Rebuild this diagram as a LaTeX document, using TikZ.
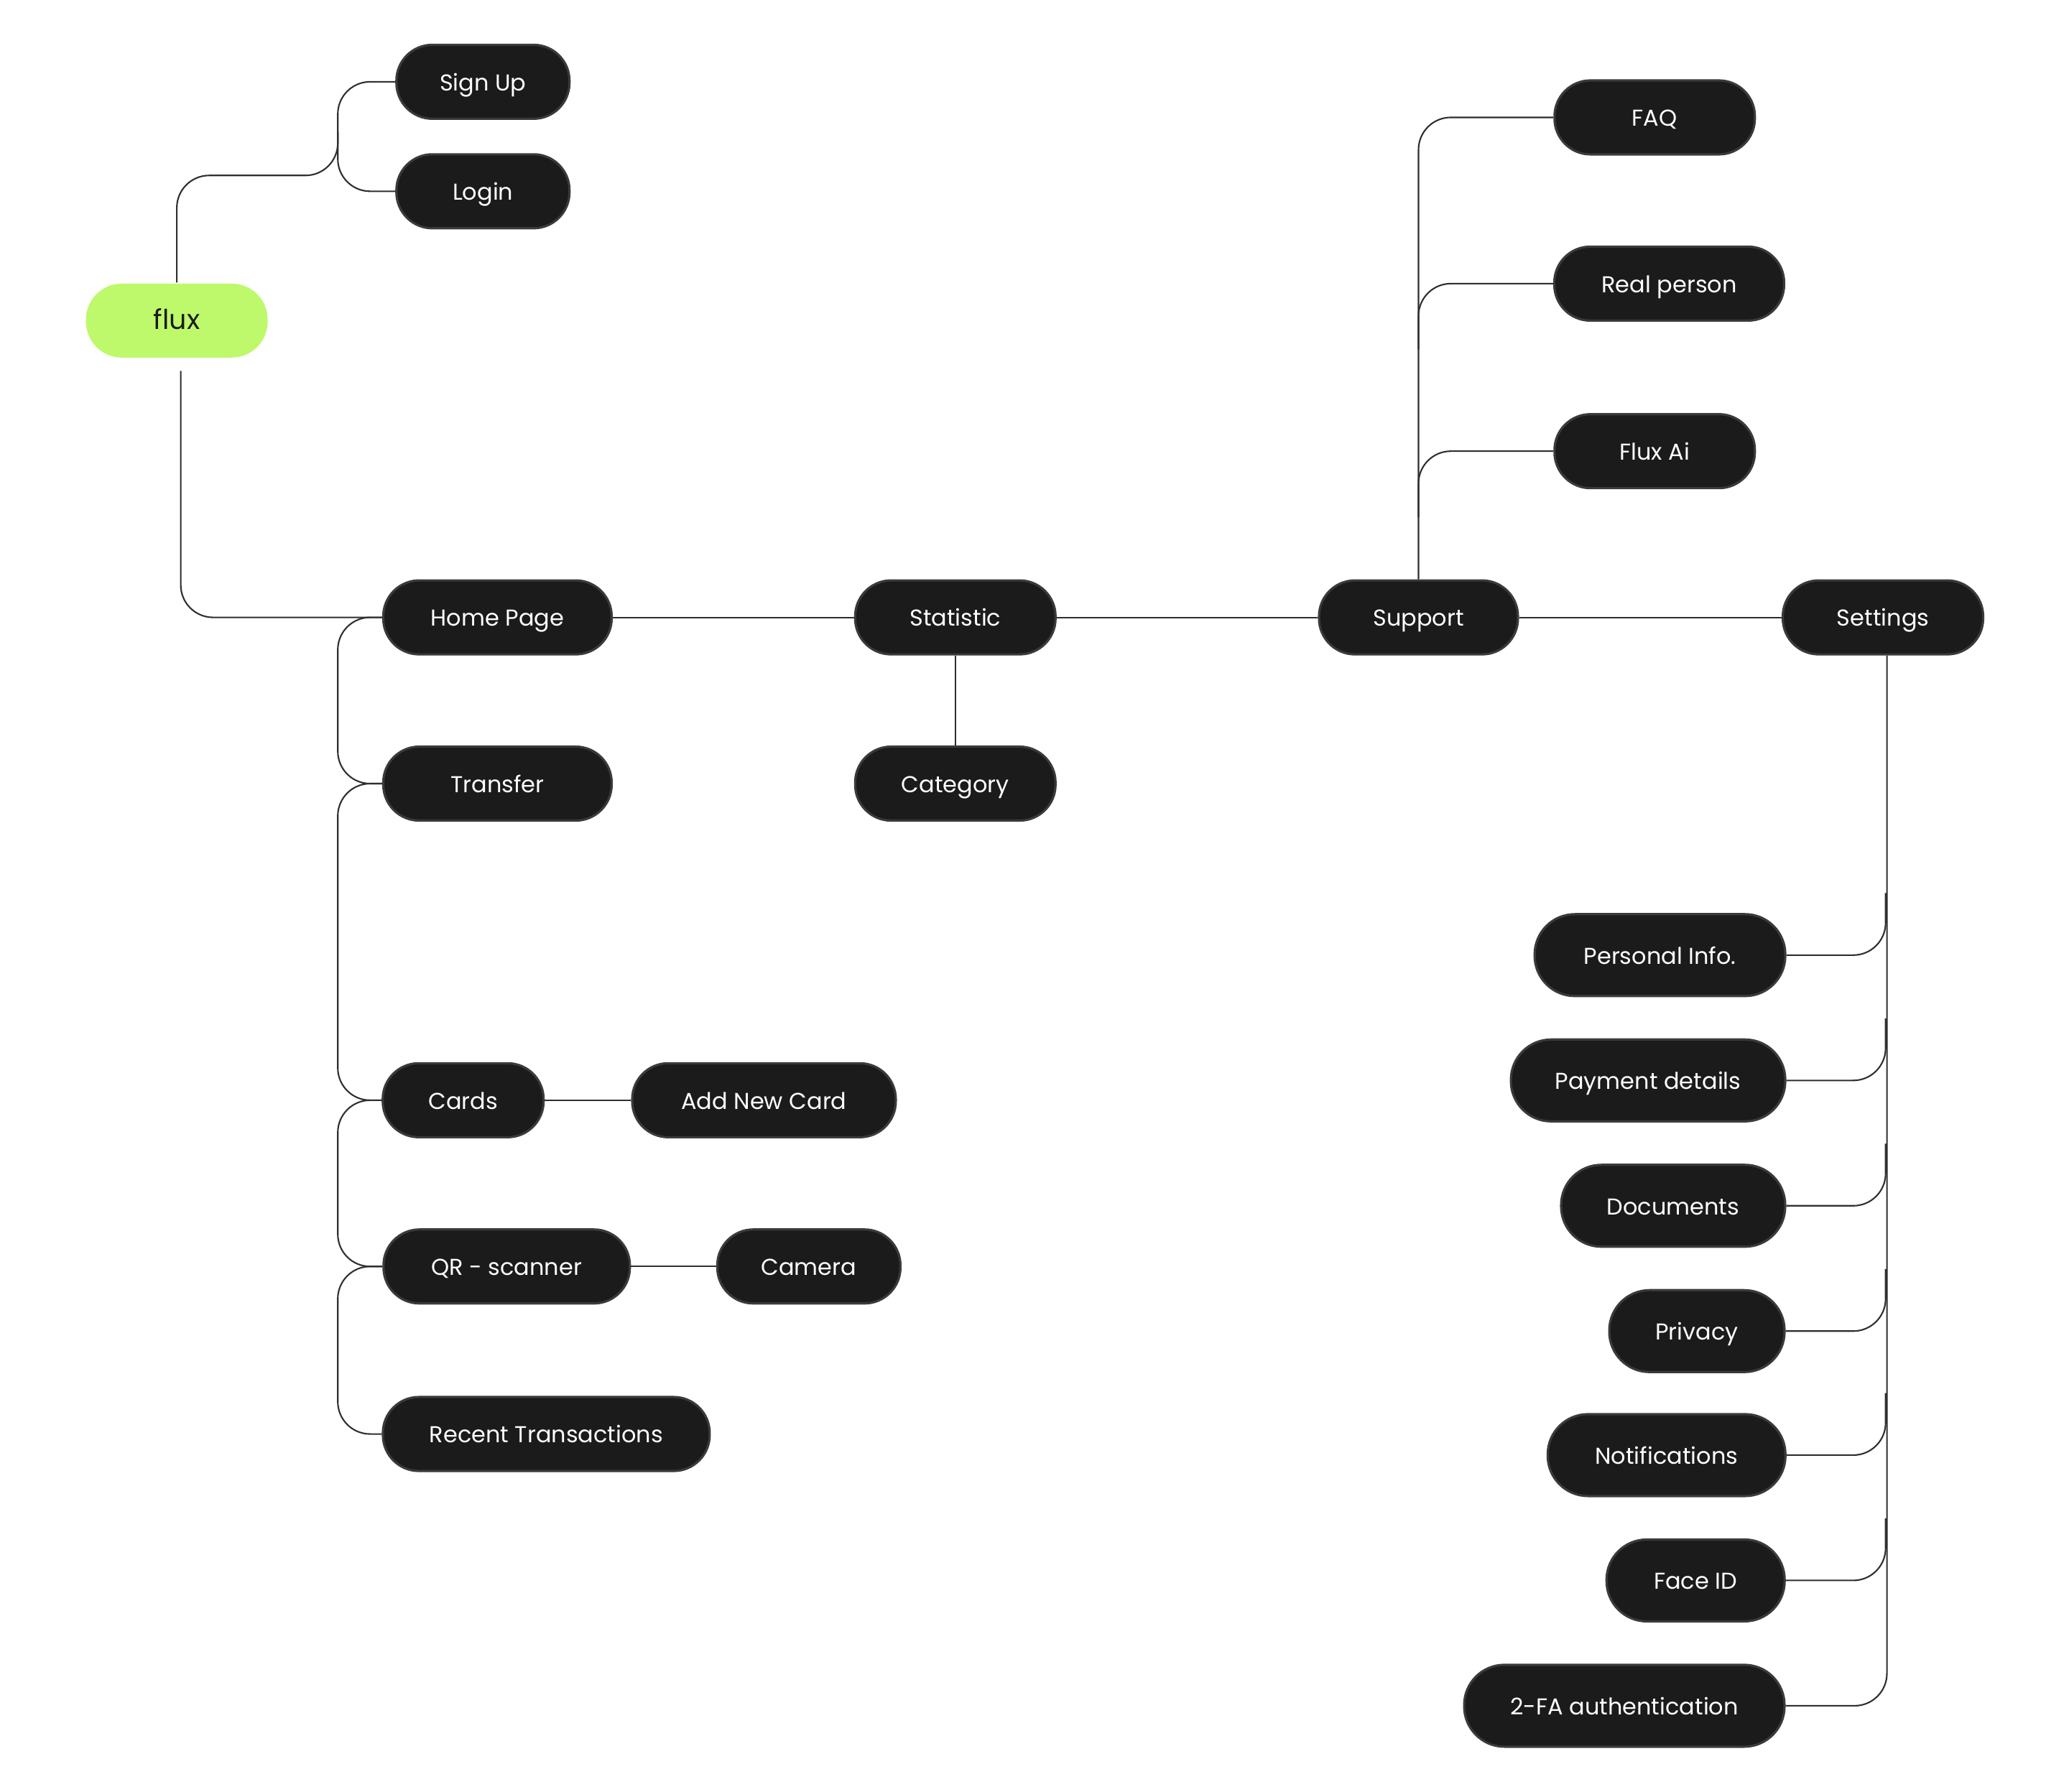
\documentclass[tikz,border=0pt]{standalone}
\usepackage{fontspec}
\setmainfont{Poppins}
\definecolor{nodefill}{HTML}{1B1B1B}
\definecolor{nodeedge}{HTML}{3A3A3A}
\definecolor{conncol}{HTML}{2F2F2F}
\definecolor{fluxgreen}{HTML}{BEF96B}
\begin{document}
\begin{tikzpicture}[x=0.018367cm,y=-0.018367cm,
 pill/.style={draw=nodeedge, line width=0.9pt, fill=nodefill, text=white, rounded corners=0.5cm, minimum height=1.03cm, inner sep=0pt, text height=0.7em, text depth=0pt, font=\fontsize{9.1}{11}\selectfont},
 pilltall/.style={pill, minimum height=1.14cm, rounded corners=0.56cm},
 rootpill/.style={pill, draw=none, fill=fluxgreen, text=nodefill, font=\fontsize{10.8}{13}\selectfont},
 conn/.style={draw=conncol, line width=0.6pt, rounded corners=0.45cm},
]
\fill[white] (0,0) rectangle (1568,1358);
\useasboundingbox (0,0) rectangle (1568,1358);

% nodes
\node[rootpill, minimum width=2.53cm] (flux) at (134,243) {flux};
\node[pill, minimum width=2.41cm] (signup) at (366,62) {Sign Up};
\node[pill, minimum width=2.41cm] (login) at (366,145) {Login};
\node[pill, minimum width=3.18cm] (home) at (377,468) {Home Page};
\node[pill, minimum width=2.79cm] (statistic) at (724,468) {Statistic};
\node[pill, minimum width=2.77cm] (support) at (1075,468) {Support};
\node[pill, minimum width=2.79cm] (settings) at (1427,468) {Settings};
\node[pill, minimum width=2.79cm] (category) at (724,594) {Category};
\node[pill, minimum width=3.18cm] (transfer) at (377,594) {Transfer};
\node[pill, minimum width=2.24cm] (cards) at (351,834) {Cards};
\node[pill, minimum width=3.67cm] (addcard) at (579,834) {Add New Card};
\node[pill, minimum width=3.43cm] (qr) at (384,960) {QR - scanner};
\node[pill, minimum width=2.55cm] (camera) at (613,960) {Camera};
\node[pill, minimum width=4.55cm] (recent) at (414,1087) {Recent Transactions};
\node[pill, minimum width=2.79cm] (faq) at (1254,89) {FAQ};
\node[pill, minimum width=3.20cm] (real) at (1265,215) {Real person};
\node[pill, minimum width=2.79cm] (fluxai) at (1254,342) {Flux Ai};
\node[pilltall, minimum width=3.49cm] (personal) at (1258,724) {Personal Info.};
\node[pilltall, minimum width=3.82cm] (payment) at (1249,819) {Payment details};
\node[pilltall, minimum width=3.12cm] (documents) at (1268,914) {Documents};
\node[pilltall, minimum width=2.44cm] (privacy) at (1286,1009) {Privacy};
\node[pilltall, minimum width=3.31cm] (notif) at (1263,1103) {Notifications};
\node[pilltall, minimum width=2.48cm] (faceid) at (1285,1198) {Face ID};
\node[pilltall, minimum width=4.46cm] (twofa) at (1231,1293) {2-FA authentication};

% connectors
\draw[conn] (flux.north) |- (256,133) |- (signup.west);
\draw[conn] (256,100) |- (login.west);
\draw[conn] ([xshift=0.055cm,yshift=-0.17cm]flux.south) |- (home.west);
\draw[conn] (home.west) -| (256,530) |- (transfer.west);
\draw[conn] (transfer.west) -| (256,700) |- (cards.west);
\draw[conn] (cards.west) -| (256,900) |- (qr.west);
\draw[conn] (qr.west) -| (256,1020) |- (recent.west);
\draw[conn] (home.east) -- (statistic.west);
\draw[conn] (statistic.east) -- (support.west);
\draw[conn] (support.east) -- (settings.west);
\draw[conn] (statistic.south) -- (category.north);
\draw[conn] (cards.east) -- (addcard.west);
\draw[conn] (qr.east) -- (camera.west);
\draw[conn] (support.north) |- (faq.west);
\draw[conn] (1075,265) |- (real.west);
\draw[conn] (1075,392) |- (fluxai.west);
\draw[conn] ([xshift=0.055cm]settings.south) |- (twofa.east);
\draw[conn] (1429,677) |- (personal.east);
\draw[conn] (1429,772) |- (payment.east);
\draw[conn] (1429,867) |- (documents.east);
\draw[conn] (1429,962) |- (privacy.east);
\draw[conn] (1429,1056) |- (notif.east);
\draw[conn] (1429,1151) |- (faceid.east);
\end{tikzpicture}
\end{document}
